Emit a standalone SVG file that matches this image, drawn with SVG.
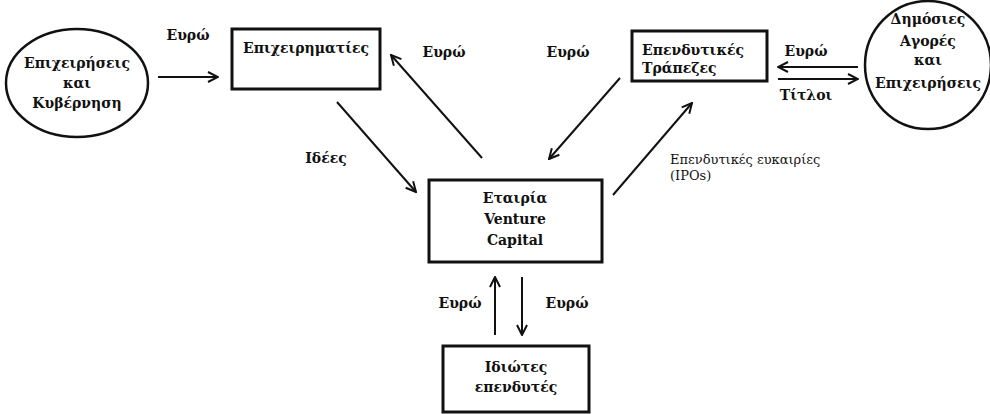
<svg xmlns="http://www.w3.org/2000/svg" width="990" height="414" viewBox="0 0 990 414">
<defs>
<marker id="ah" viewBox="0 0 12 12" refX="11" refY="6" markerWidth="12" markerHeight="12" markerUnits="userSpaceOnUse" orient="auto">
<path d="M1,1 L11,6 L1,11" fill="none" stroke="#111" stroke-width="2"/>
</marker>
<style>
.box{fill:#fff;stroke:#111;stroke-width:3}
.oval{fill:none;stroke:#111;stroke-width:2.5}
.t{font-family:"DejaVu Serif",serif;font-weight:bold;font-size:14px;fill:#111}
.s{font-family:"DejaVu Serif",serif;font-size:13px;fill:#111}
.c{stroke:#111;stroke-width:2;fill:none;marker-end:url(#ah)}
</style>
</defs>
<rect width="990" height="414" fill="#fff"/>
<g id="epixeiriseis-kyvernisi">
<ellipse class="oval" cx="77" cy="83" rx="71" ry="54"/>
<text class="t" x="77" y="68" text-anchor="middle">Επιχειρήσεις</text>
<text class="t" x="77" y="88" text-anchor="middle">και</text>
<text class="t" x="77" y="108" text-anchor="middle">Κυβέρνηση</text>
</g>
<g id="epixeirimaties">
<rect class="box" x="232" y="29" width="148" height="60"/>
<text class="t" x="306" y="53" text-anchor="middle">Επιχειρηματίες</text>
</g>
<g id="ependytikes-trapezes">
<rect class="box" x="632" y="31" width="135" height="50"/>
<text class="t" x="642" y="55">Επενδυτικές</text>
<text class="t" x="642" y="73">Τράπεζες</text>
</g>
<g id="dimosies-agores">
<ellipse class="oval" cx="928" cy="65" rx="63" ry="64"/>
<text class="t" x="928" y="24" text-anchor="middle">Δημόσιες</text>
<text class="t" x="928" y="46" text-anchor="middle">Αγορές</text>
<text class="t" x="928" y="65" text-anchor="middle">και</text>
<text class="t" x="928" y="88" text-anchor="middle">Επιχειρήσεις</text>
</g>
<g id="venture-capital">
<rect class="box" x="429" y="180" width="173" height="82"/>
<text class="t" x="515" y="203" text-anchor="middle">Εταιρία</text>
<text class="t" x="515" y="224" text-anchor="middle">Venture</text>
<text class="t" x="515" y="245" text-anchor="middle">Capital</text>
</g>
<g id="idiotes-ependytes">
<rect class="box" x="443" y="346" width="146" height="66"/>
<text class="t" x="516" y="372" text-anchor="middle">Ιδιώτες</text>
<text class="t" x="516" y="392" text-anchor="middle">επενδυτές</text>
</g>
<g id="connectors">
<line class="c" x1="158" y1="77" x2="218" y2="77"/>
<line class="c" x1="482" y1="158" x2="391" y2="55"/>
<line class="c" x1="620" y1="78" x2="549" y2="159"/>
<line class="c" x1="858" y1="67" x2="778" y2="67"/>
<line class="c" x1="778" y1="79" x2="858" y2="79"/>
<line class="c" x1="337" y1="102" x2="416" y2="192"/>
<line class="c" x1="613" y1="195" x2="692" y2="103"/>
<line class="c" x1="495" y1="335" x2="495" y2="277"/>
<line class="c" x1="522" y1="277" x2="522" y2="335"/>
<text class="t" x="188" y="40" text-anchor="middle">Ευρώ</text>
<text class="t" x="444" y="57" text-anchor="middle">Ευρώ</text>
<text class="t" x="568" y="57" text-anchor="middle">Ευρώ</text>
<text class="t" x="806" y="56" text-anchor="middle">Ευρώ</text>
<text class="t" x="806" y="100" text-anchor="middle">Τίτλοι</text>
<text class="t" x="326" y="163" text-anchor="middle">Ιδέες</text>
<text class="s" x="670" y="164">Επενδυτικές ευκαιρίες</text>
<text class="s" x="670" y="180">(IPOs)</text>
<text class="t" x="460" y="308" text-anchor="middle">Ευρώ</text>
<text class="t" x="567" y="308" text-anchor="middle">Ευρώ</text>
</g>
</svg>
